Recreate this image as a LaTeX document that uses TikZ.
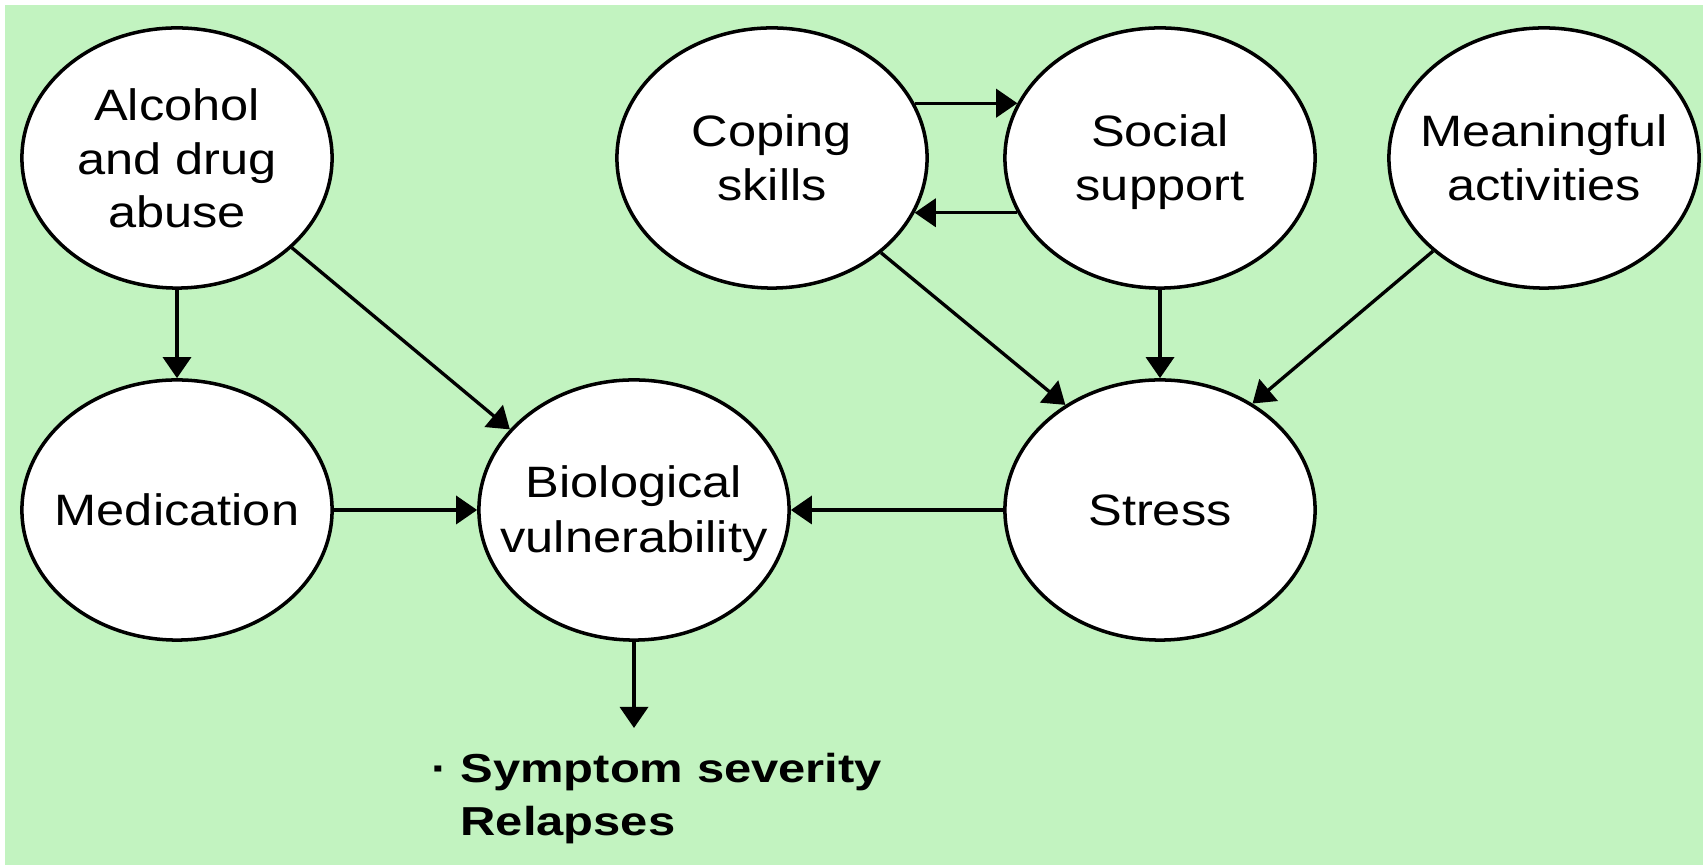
\documentclass[tikz,border=0pt]{standalone}
\usepackage{fontspec}
\setmainfont[FakeStretch=1.15]{Liberation Sans}
\newfontfamily\heavy[FakeStretch=1.21]{Liberation Sans}
\usetikzlibrary{shapes.geometric,arrows.meta}
\definecolor{bggreen}{RGB}{194,243,192}
% #1 = raise of the first baseline above the node centre, #2 = lines
\newcommand{\etext}[2]{\makebox[0pt]{\raisebox{#1}[0pt][0pt]{\begin{tabular}[t]{@{}c@{}}#2\end{tabular}}}}
\tikzset{
  ell/.style={draw, ellipse, fill=white, line width=1pt, minimum width=3.1cm, minimum height=2.6cm, inner sep=0pt, font=\fontsize{12.5}{15.5}\selectfont},
  arr/.style={-{Triangle[length=6pt,width=8pt]}, line width=0.95pt},
  outtext/.style={inner sep=0pt, anchor=base west, font=\heavy\bfseries\fontsize{11.5}{14.8}\selectfont}
}
\begin{document}
\begin{tikzpicture}[x=0.01cm,y=-0.01cm]
\useasboundingbox (0,0) rectangle (1703,865);
\fill[bggreen] (5,5) rectangle (1703,865);
\node[ell] (alc) at (177,158) {\etext{10.6pt}{Alcohol\\[-0.3pt]and drug\\[-0.3pt]abuse}};
\node[ell] (med) at (177,510) {\etext{-4.3pt}{Medication}};
\node[ell] (bio) at (634,510) {\etext{3.5pt}{Biological\\vulnerability}};
\node[ell] (cop) at (772,158) {\etext{3.3pt}{Coping\\skills}};
\node[ell] (soc) at (1160,158) {\etext{3.3pt}{Social\\support}};
\node[ell] (mea) at (1544,158) {\etext{3.3pt}{Meaningful\\activities}};
\node[ell] (str) at (1160,510) {\etext{-4.3pt}{Stress}};
\node[outtext] (sym) at (431,783) {\begin{tabular}[t]{@{}l@{}}\makebox[8.2pt][l]{·}Symptom severity\\\hspace*{8.2pt}Relapses\end{tabular}};
\coordinate (symtop) at (634,728);
\draw[arr] (alc) -- (med);
\draw[arr] (alc.-38) -- (bio.147);
\draw[arr] (med) -- (bio);
\draw[arr] (str) -- (bio);
\draw[arr] (bio.south) -- (symtop);
\draw[arr] (cop.21) -- (soc.159);
\draw[arr] (soc.201) -- (cop.-21);
\draw[arr] (cop.-41) -- (str.132);
\draw[arr] (soc) -- (str);
\draw[arr] (mea.220) -- (str.49);
\end{tikzpicture}
\end{document}
